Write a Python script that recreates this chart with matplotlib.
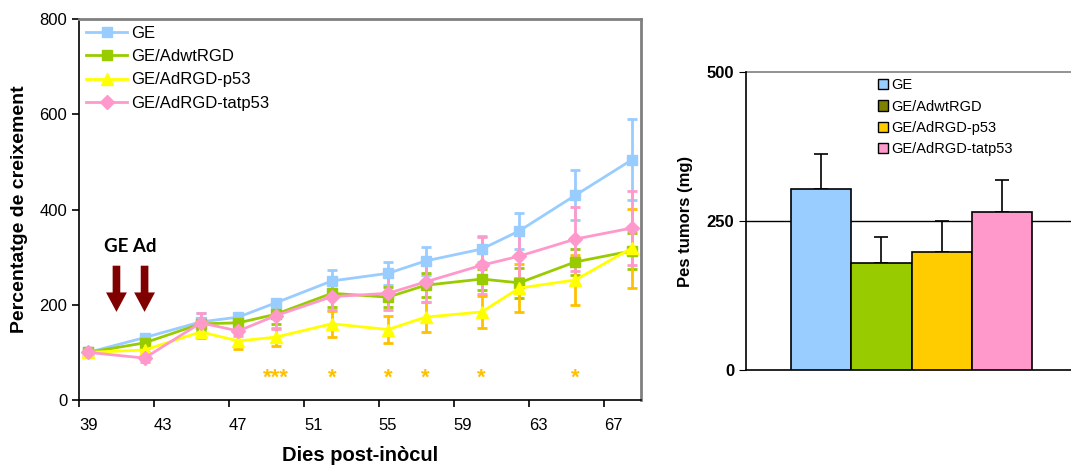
import matplotlib
matplotlib.use("Agg")
import matplotlib.pyplot as plt
from matplotlib.patches import Patch
import numpy as np

plt.rcParams['font.family'] = ['Liberation Sans', 'DejaVu Sans']

# Growth curves (% of initial volume) by day post-inoculation
days = [39, 42, 45, 47, 49, 52, 55, 57, 60, 62, 65, 68]
series_names = ["GE", "GE/AdwtRGD", "GE/AdRGD-p53", "GE/AdRGD-tatp53"]
ge_vals = [100, 131, 164, 174, 204, 250, 266, 292, 317, 355, 430, 504]
ge_err = [3, 5, 18, 8, 5, 23, 24, 29, 27, 38, 52, 85]
wt_vals = [100, 120, 160, 162, 180, 224, 216, 241, 254, 246, 290, 313]
wt_err = [3, 8, 12, 10, 20, 28, 21, 25, 22, 32, 28, 37]
p53_vals = [100, 105, 143, 124, 132, 160, 148, 174, 185, 235, 252, 319]
p53_err = [3, 5, 12, 17, 19, 27, 28, 32, 34, 50, 52, 83]
tat_vals = [100, 88, 162, 145, 177, 217, 224, 248, 283, 302, 338, 361]
tat_err = [3, 8, 20, 10, 28, 28, 35, 42, 60, 45, 68, 78]

# Days with significant difference, and the markers drawn for each
signif_days = [49, 52, 55, 57, 60, 65]
signif_marks = ["***", "*", "*", "*", "*", "*"]

# Treatment days
arrow_days = [40.5, 42]

# Final tumour weight (mg)
bar_vals = [304, 180, 198, 265]
bar_err = [58, 43, 52, 54]

line_colors = ["#99CCFF", "#99CC00", "#FFFF00", "#FF99CC"]
err_colors = ["#99CCFF", "#99CC00", "#FFC000", "#FF99CC"]
markers = ["s", "s", "^", "D"]
msizes = [7, 7, 8.5, 7]
bar_colors = ["#99CCFF", "#99CC00", "#FFCC00", "#FF99CC"]
legend_patch_colors = ["#99CCFF", "#808000", "#FFCC00", "#FF99CC"]

fig = plt.figure(figsize=(10.71, 4.70), dpi=100)

# ---- growth curves ----
ax = fig.add_axes([79/1071, 1 - 400/470, (641-79)/1071, (400-19)/470])
all_vals = [ge_vals, wt_vals, p53_vals, tat_vals]
all_err = [ge_err, wt_err, p53_err, tat_err]
handles = []
for i in range(4):
    ax.errorbar(days, all_vals[i], yerr=all_err[i], fmt='none', ecolor=err_colors[i],
                elinewidth=2, capsize=3.7, capthick=2, zorder=2 + i * 0.1)
for i in range(4):
    h, = ax.plot(days, all_vals[i], color=line_colors[i], lw=2, marker=markers[i],
                 ms=msizes[i], mfc=line_colors[i], mec=line_colors[i], zorder=3 + i * 0.1,
                 label=series_names[i])
    handles.append(h)

for d, m in zip(signif_days, signif_marks):
    ax.text(d, 35, m, color="#FFC000", fontsize=16, fontweight='bold',
            ha='center', va='baseline')

for d in arrow_days:
    ax.annotate("", xy=(d, 185), xytext=(d, 282),
                arrowprops=dict(arrowstyle='simple,head_width=1.5,head_length=1.4,tail_width=0.55',
                                color="#800000", lw=0, mutation_scale=10,
                                shrinkA=0, shrinkB=0))
ax.text(41.25, 322, "GE Ad", fontsize=13.5, fontfamily=['Lato', 'DejaVu Sans'],
        fontweight='bold', ha='center', va='center', color='black')

ax.set_xlim(38.5, 68.5)
ax.set_ylim(0, 800)
ax.set_yticks([0, 200, 400, 600, 800])
ax.set_xticks(np.arange(38.5, 68, 4))
ax.set_xticklabels([])
ax.set_xticks(np.arange(39, 68, 4), minor=True)
ax.set_xticklabels([str(v) for v in range(39, 68, 4)], minor=True)
ax.tick_params(axis='x', which='major', direction='out', length=5, width=1.2)
ax.tick_params(axis='x', which='minor', length=0, pad=13, labelsize=12)
ax.tick_params(axis='y', direction='out', length=5, width=1.2, labelsize=12)
for s in ['left', 'bottom']:
    ax.spines[s].set_color('black')
    ax.spines[s].set_linewidth(1.2)
for s in ['top', 'right']:
    ax.spines[s].set_color('#808080')
    ax.spines[s].set_linewidth(2)
ax.set_xlabel("Dies post-inòcul", fontsize=14.5, fontweight='bold', labelpad=9)
ax.set_ylabel("Percentatge de creixement", fontsize=14, fontweight='bold', labelpad=8)

ax.legend(handles=handles, loc='upper left', frameon=False, fontsize=12,
          handlelength=2.5, handletextpad=0.2, labelspacing=0.5,
          borderaxespad=0.0, bbox_to_anchor=(0.0, 1.0))

# ---- tumour weight bars ----
bx = fig.add_axes([746/1071, 1 - 370/470, (1071-746)/1071, (370-72)/470])
xpos = np.arange(len(bar_vals))
bx.bar(xpos, bar_vals, width=1.0, color=bar_colors, edgecolor='black', linewidth=1.2, zorder=3)
bx.errorbar(xpos, bar_vals, yerr=[np.zeros(len(bar_err)), bar_err], fmt='none',
            ecolor='black', elinewidth=1.2, capsize=4.7, capthick=1.2, zorder=2)
bx.set_ylim(0, 500)
bx.set_xlim(-1.25, 4.15)
bx.set_yticks([0, 250, 500])
bx.set_yticklabels(["0", "250", "500"], fontweight='bold')
bx.set_xticks([])
bx.axhline(250, color='black', lw=1.0, zorder=1)
bx.axhline(500, color='#808080', lw=1.2, zorder=1, clip_on=False)
for s in ['top', 'right']:
    bx.spines[s].set_visible(False)
bx.spines['left'].set_color('black')
bx.spines['bottom'].set_color('black')
bx.spines['left'].set_linewidth(1.2)
bx.spines['bottom'].set_linewidth(1.2)
bx.tick_params(axis='y', direction='out', length=5, labelsize=12)
bx.set_ylabel("Pes tumors (mg)", fontsize=12, fontweight='bold', labelpad=10)

patches = [Patch(facecolor=c, edgecolor='black', linewidth=1.0) for c in legend_patch_colors]
bx.legend(patches, series_names, loc='upper left', bbox_to_anchor=(0.365, 1.023),
          frameon=False, fontsize=10.5, handlelength=0.7, handleheight=0.7,
          handletextpad=0.25, labelspacing=0.5)

fig.savefig("out.png", dpi=100)
